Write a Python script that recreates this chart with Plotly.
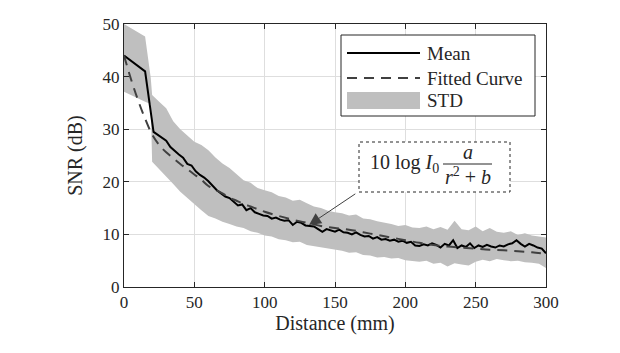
import plotly.graph_objects as go

# ---------------- data ----------------
mean_x = [0, 15] + list(range(21, 301, 3))
mean_y = [44.0, 41.0,
          29.5, 28.9, 28.4, 27.8, 26.6, 25.8, 25.2, 24.6, 23.4, 23.1,
          22.0, 21.3, 20.8, 20.1, 19.3, 18.4, 17.8, 17.2, 16.9, 16.2,
          15.5, 15.7, 14.6, 15.0, 14.2, 13.9, 13.6, 13.5, 13.0, 13.2,
          12.8, 12.6, 12.7, 11.8, 12.4, 12.2, 11.7, 11.6, 11.5, 11.0,
          10.5, 11.0, 10.8, 10.5, 10.9, 10.4, 10.3, 10.0, 10.4, 9.9,
          9.6, 9.7, 9.2, 9.5, 9.0, 9.1, 8.8, 9.0, 8.6, 8.8,
          8.4, 8.6, 7.9, 7.8, 8.1, 7.9, 8.3, 8.0, 7.5, 8.2,
          7.9, 8.9, 7.4, 7.9, 7.6, 8.3, 7.4, 7.9, 7.6, 8.0,
          7.7, 7.5, 7.9, 7.7, 8.1, 8.3, 8.9, 8.2, 7.7, 8.2,
          7.9, 7.5, 7.3, 6.4]

band_x = [0, 15, 19] + list(range(20, 301, 5))
band_upper = [50.0, 47.6, 39.8,
              36.5, 35.2, 34.0, 31.5, 30.0, 28.8, 27.6, 27.0, 26.0, 24.6,
              23.5, 22.6, 21.4, 20.3, 19.8, 18.8, 18.4, 18.0, 17.3, 17.0,
              16.4, 16.6, 15.9, 15.3, 15.0, 14.5, 14.2, 14.0, 13.6, 13.8,
              13.0, 12.9, 12.5, 12.3, 12.0, 11.6, 11.8, 11.3, 11.2, 11.5,
              11.0, 11.4, 10.9, 12.6, 11.0, 10.8, 11.5, 10.6, 11.2, 10.5,
              10.3, 10.6, 9.9, 10.2, 9.8, 9.6, 9.4]
band_lower = [37.1, 35.2, 34.8,
              23.8, 22.4, 21.0, 19.6, 18.1, 16.9, 15.8, 14.6, 13.5, 13.0,
              12.4, 12.0, 11.5, 11.2, 10.6, 10.3, 9.8, 9.6, 9.1, 8.9,
              8.5, 8.6, 8.0, 7.8, 7.5, 7.4, 7.1, 6.9, 6.5, 6.6,
              6.1, 6.0, 5.6, 5.7, 5.4, 5.5, 5.1, 4.9, 4.8, 5.0,
              4.4, 4.6, 3.9, 4.5, 4.3, 4.1, 4.8, 5.2, 4.9, 5.3,
              5.1, 4.9, 5.0, 4.7, 4.6, 4.4, 3.6]

fit_x = [0, 5, 10, 15, 20, 25, 30, 35, 40, 45, 50, 55, 60, 65, 70, 75, 80, 85,
         90, 95, 100, 110, 120, 130, 140, 150, 160, 170, 180, 190, 200, 210,
         220, 230, 240, 250, 260, 270, 280, 290, 300]
fit_y = [44.0, 39.5, 35.5, 32.0, 29.0, 27.0, 25.6, 24.5, 23.4, 22.4, 21.4,
         20.4, 19.2, 18.5, 17.8, 17.0, 16.4, 15.8, 15.3, 14.8, 14.3, 13.5,
         12.8, 12.2, 11.6, 11.2, 10.9, 10.4, 9.9, 9.4, 8.9, 8.4, 8.0, 7.7,
         7.5, 7.3, 7.1, 7.0, 6.8, 6.6, 6.3]

x_ticks = [0, 50, 100, 150, 200, 250, 300]
y_ticks = [0, 10, 20, 30, 40, 50]

assert len(mean_x) == len(mean_y)
assert len(band_x) == len(band_upper) == len(band_lower)
assert len(fit_x) == len(fit_y)

# ---------------- styles ----------------
FONT = "'Liberation Serif', 'Times New Roman', 'DejaVu Serif', serif"
TXT = "#262626"
BAND = "#bfbfbf"
FIT = "#404040"
DASH = "10px,7px"

fig = go.Figure()
fig.add_trace(go.Scatter(
    x=band_x + band_x[::-1], y=band_upper + band_lower[::-1],
    fill="toself", fillcolor=BAND, line=dict(width=0), mode="lines",
    name="STD", showlegend=False, hoverinfo="skip"))
fig.add_trace(go.Scatter(
    x=mean_x, y=mean_y, mode="lines", name="Mean",
    line=dict(color="black", width=2), showlegend=False))
fig.add_trace(go.Scatter(
    x=fit_x, y=fit_y, mode="lines", name="Fitted Curve",
    line=dict(color=FIT, width=2, dash=DASH, shape="spline"), showlegend=False))

axis_common = dict(showline=True, linecolor=TXT, linewidth=1, mirror="ticks",
                   ticks="inside", ticklen=5, tickcolor=TXT,
                   showgrid=True, gridcolor="#dedede", gridwidth=1, zeroline=False,
                   tickfont=dict(family=FONT, size=17, color=TXT))

fig.update_xaxes(range=[0, 300], tickvals=x_ticks,
                 title=dict(text="Distance (mm)", font=dict(family=FONT, size=20, color=TXT), standoff=4),
                 **axis_common)
fig.update_yaxes(range=[0, 50], tickvals=y_ticks,
                 title=dict(text="SNR (dB)", font=dict(family=FONT, size=20, color=TXT), standoff=14),
                 **axis_common)

# plot area in pixels: x 124..546, y 24..287
PL, PR, PT, PB = 124, 546, 24, 287
def px(xp):
    return (xp - PL) / (PR - PL)
def py(yp):
    return (PB - yp) / (PB - PT)

shapes = []
annotations = []

# custom legend
shapes.append(dict(type="rect", xref="paper", yref="paper",
                   x0=px(341), x1=px(535), y0=py(116), y1=py(35),
                   line=dict(color=TXT, width=1), fillcolor="white", layer="above"))
shapes.append(dict(type="line", xref="paper", yref="paper",
                   x0=px(347), x1=px(420), y0=py(53), y1=py(53),
                   line=dict(color="black", width=2), layer="above"))
shapes.append(dict(type="line", xref="paper", yref="paper",
                   x0=px(347), x1=px(420), y0=py(78), y1=py(78),
                   line=dict(color=FIT, width=2, dash=DASH), layer="above"))
shapes.append(dict(type="rect", xref="paper", yref="paper",
                   x0=px(347), x1=px(420), y0=py(109), y1=py(92),
                   line=dict(width=0), fillcolor=BAND, layer="above"))
for label, yy in [("Mean", 53), ("Fitted Curve", 78), ("STD", 100)]:
    annotations.append(dict(text=label, xref="paper", yref="paper", x=px(425), y=py(yy),
                            xanchor="left", yanchor="middle", showarrow=False,
                            font=dict(family=FONT, size=19, color=TXT)))

# formula box (dotted)
shapes.append(dict(type="rect", xref="paper", yref="paper",
                   x0=px(359), x1=px(510), y0=py(192), y1=py(142),
                   line=dict(color=TXT, width=1, dash="dot"), fillcolor="white", layer="above"))
# fraction bar
shapes.append(dict(type="line", xref="paper", yref="paper",
                   x0=px(443), x1=px(492), y0=py(164), y1=py(164),
                   line=dict(color=TXT, width=1), layer="above"))
annotations.append(dict(text="10 log <i>I</i><sub>0</sub>", xref="paper", yref="paper",
                        x=px(441), y=py(163), xanchor="right", yanchor="middle", showarrow=False,
                        font=dict(family=FONT, size=20, color=TXT)))
annotations.append(dict(text="<i>a</i>", xref="paper", yref="paper",
                        x=px(467.5), y=py(152), xanchor="center", yanchor="middle", showarrow=False,
                        font=dict(family=FONT, size=20, color=TXT)))
annotations.append(dict(text="<i>r</i><sup>2</sup> + <i>b</i>", xref="paper", yref="paper",
                        x=px(467.5), y=py(176), xanchor="center", yanchor="middle", showarrow=False,
                        font=dict(family=FONT, size=20, color=TXT)))

# arrow from box to curve
annotations.append(dict(text="", x=131.5, y=11.8, xref="x", yref="y",
                        ax=165.5, ay=17.9, axref="x", ayref="y",
                        showarrow=True, arrowhead=2, arrowsize=2.4, arrowwidth=1,
                        arrowcolor=FIT, standoff=0, startstandoff=0))

fig.update_layout(
    width=620, height=353,
    margin=dict(l=PL, r=620 - PR, t=PT, b=353 - PB, autoexpand=False),
    paper_bgcolor="white", plot_bgcolor="white",
    font=dict(family=FONT, color=TXT),
    shapes=shapes, annotations=annotations,
    showlegend=False,
)

fig.write_html("out.html")
